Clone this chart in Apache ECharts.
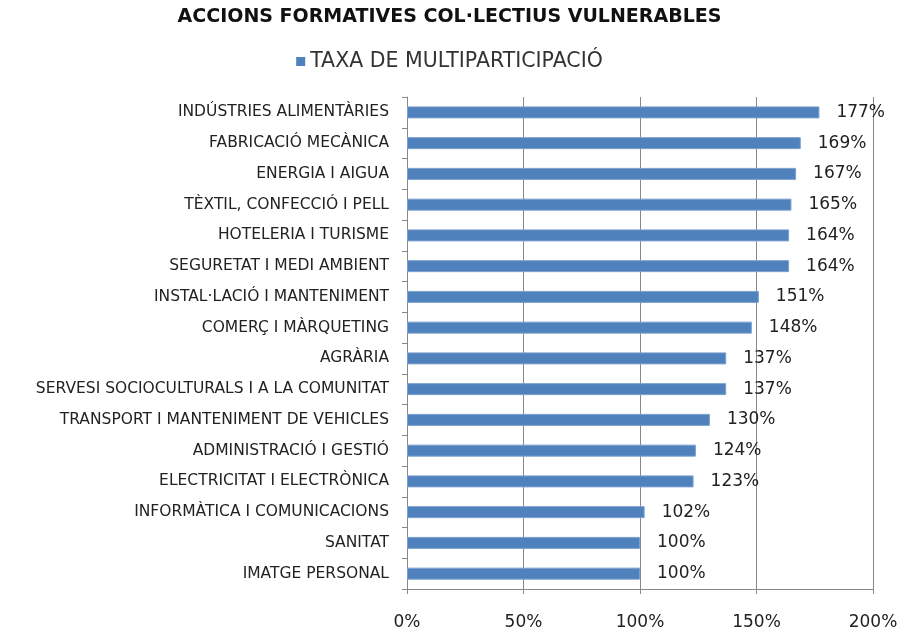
<!DOCTYPE html>
<html>
<head>
<meta charset="utf-8">
<script src="https://cdn.jsdelivr.net/npm/echarts@6/dist/echarts.min.js"></script>
<style>
	html, body { margin: 0; padding: 0; background: #fff; }
	#chart { width: 899px; height: 627px; }
</style>
</head>
<body>
<div id="chart"></div>
<script>
const categories = [
	'INDÚSTRIES ALIMENTÀRIES',
	'FABRICACIÓ MECÀNICA',
	'ENERGIA I AIGUA',
	'TÈXTIL, CONFECCIÓ I PELL',
	'HOTELERIA I TURISME',
	'SEGURETAT I MEDI AMBIENT',
	'INSTAL·LACIÓ I MANTENIMENT',
	'COMERÇ I MÀRQUETING',
	'AGRÀRIA',
	'SERVESI SOCIOCULTURALS I A LA COMUNITAT',
	'TRANSPORT I MANTENIMENT DE VEHICLES',
	'ADMINISTRACIÓ I GESTIÓ',
	'ELECTRICITAT I ELECTRÒNICA',
	'INFORMÀTICA I COMUNICACIONS',
	'SANITAT',
	'IMATGE PERSONAL'
];
const taxaValues = [177, 169, 167, 165, 164, 164, 151, 148, 137, 137, 130, 124, 123, 102, 100, 100];
const seriesName = 'TAXA DE MULTIPARTICIPACIÓ';

const FONT = '"DejaVu Sans", sans-serif';
const chart = echarts.init(document.getElementById('chart'));

chart.setOption({
	animation: false,
	title: {
		text: 'ACCIONS FORMATIVES COL·LECTIUS VULNERABLES',
		left: 'center',
		top: 3,
		textStyle: { fontFamily: FONT, fontSize: 19, fontWeight: 'bold', color: '#111' }
	},
	legend: {
		data: [seriesName],
		top: 46,
		left: 'center',
		icon: 'rect',
		itemWidth: 9,
		itemHeight: 9,
		itemGap: 7,
		itemStyle: { borderWidth: 0 },
		textStyle: { fontFamily: FONT, fontSize: 20.5, color: '#333' }
	},
	grid: { left: 407, right: 26, top: 97, bottom: 38, containLabel: false, outerBoundsMode: 'none' },
	xAxis: {
		type: 'value',
		min: 0,
		max: 200,
		interval: 50,
		axisLabel: {
			formatter: '{value}%',
			fontFamily: FONT,
			fontSize: 17,
			color: '#222',
			margin: 25
		},
		axisLine: { show: true, lineStyle: { color: '#888' } },
		axisTick: { show: true, length: 5, lineStyle: { color: '#888' } },
		splitLine: { show: true, lineStyle: { color: '#888', width: 1 } }
	},
	yAxis: {
		type: 'category',
		data: categories,
		inverse: true,
		axisLabel: { fontFamily: FONT, fontSize: 15.5, color: '#222', margin: 18 },
		axisLine: { show: true, lineStyle: { color: '#888' } },
		axisTick: { show: true, length: 5, lineStyle: { color: '#888' } }
	},
	series: [{
		name: seriesName,
		type: 'bar',
		data: taxaValues,
		barWidth: 12,
		itemStyle: { color: '#4f81bd', borderColor: '#7da0cf', borderWidth: 1 },
		label: {
			show: true,
			position: 'right',
			distance: 17,
			formatter: '{c}%',
			fontFamily: FONT,
			fontSize: 17,
			color: '#222'
		}
	}]
});
</script>
</body>
</html>
